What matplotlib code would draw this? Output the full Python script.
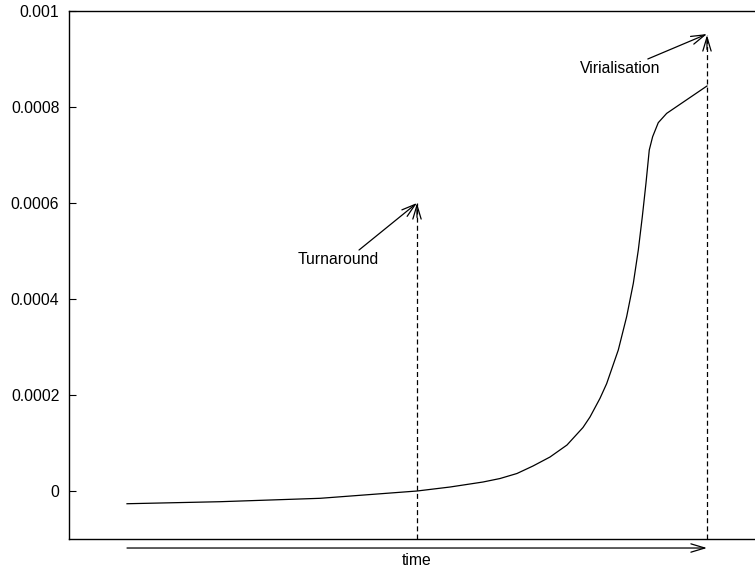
import matplotlib
matplotlib.use("Agg")
import matplotlib.pyplot as plt

plt.rcParams['font.family'] = ['Liberation Sans', 'DejaVu Sans']

# curve data (time in units where start=0, virialisation=1)
t_vals = [0.0, 0.160, 0.333, 0.5, 0.5569, 0.6138, 0.6431, 0.6724, 0.7000,
          0.7293, 0.7586, 0.7862, 0.7983, 0.8155, 0.8270, 0.8471, 0.8615,
          0.8730, 0.8816, 0.8885, 0.8948, 0.9005, 0.9063, 0.9160, 0.9305,
          1.0]
y_vals = [-2.65e-5, -2.23e-5, -1.52e-5, 0.0, 8.3e-6, 1.875e-5, 2.60e-5,
          3.65e-5, 5.21e-5, 7.08e-5, 9.58e-5, 1.323e-4, 1.542e-4, 1.93e-4,
          2.236e-4, 2.938e-4, 3.632e-4, 4.327e-4, 5.021e-4, 5.715e-4,
          6.410e-4, 7.104e-4, 7.381e-4, 7.673e-4, 7.867e-4, 8.4375e-4]

ytick_vals = [0, 0.0002, 0.0004, 0.0006, 0.0008, 0.001]
ytick_labels = ["0", "0.0002", "0.0004", "0.0006", "0.0008", "0.001"]

t_turn, y_turn_top = 0.5, 0.0006
t_vir, y_vir_top = 1.0, 0.00095
ymin, ymax = -0.0001, 0.001

fig = plt.figure(figsize=(7.55, 5.69), dpi=100)
ax = fig.add_axes([0.0914, 0.0527, 1.0 - 0.0914, 0.9807 - 0.0527])
ax.set_xlim(-0.1, 1.0828)
ax.set_ylim(ymin, ymax)

ax.plot(t_vals, y_vals, color='black', lw=0.9)

# dashed vertical lines
ax.plot([t_turn, t_turn], [ymin, y_turn_top], color='black', lw=0.9,
        dashes=(4, 2.5))
ax.plot([t_vir, t_vir], [ymin, y_vir_top], color='black', lw=0.9,
        dashes=(4, 2.5))

ap = dict(arrowstyle='->,head_length=1.0,head_width=0.3', color='black',
          lw=0.9, shrinkA=0, shrinkB=0)

# dashed line arrowheads
ax.annotate('', xy=(t_turn, y_turn_top), xytext=(t_turn, y_turn_top - 0.00003),
            arrowprops=ap)
ax.annotate('', xy=(t_vir, y_vir_top), xytext=(t_vir, y_vir_top - 0.00003),
            arrowprops=ap)

# Turnaround label
ax.annotate('', xy=(t_turn, y_turn_top), xytext=(0.4, 5.02e-4), arrowprops=ap)
ax.text(0.364, 4.833e-4, 'Turnaround', fontsize=11.3, ha='center', va='center')

# Virialisation label
ax.annotate('', xy=(t_vir, 9.52e-4), xytext=(0.898, 9.0e-4), arrowprops=ap)
ax.text(0.85, 8.81e-4, 'Virialisation', fontsize=11.3, ha='center', va='center')

# time arrow below axis
ax.annotate('', xy=(1.0, -1.1875e-4), xytext=(0.0, -1.1875e-4),
            arrowprops=ap, annotation_clip=False)
ax.text(0.5, -1.44e-4, 'time', fontsize=11.3, ha='center', va='center',
        clip_on=False)

ax.spines['right'].set_visible(False)
for s in ['left', 'top', 'bottom']:
    ax.spines[s].set_linewidth(1.0)

ax.set_xticks([])
ax.set_yticks(ytick_vals)
ax.set_yticklabels(ytick_labels)
ax.tick_params(axis='y', direction='in', length=5, width=0.8, pad=7,
               labelsize=11.3)

fig.savefig('out.png', dpi=100)
